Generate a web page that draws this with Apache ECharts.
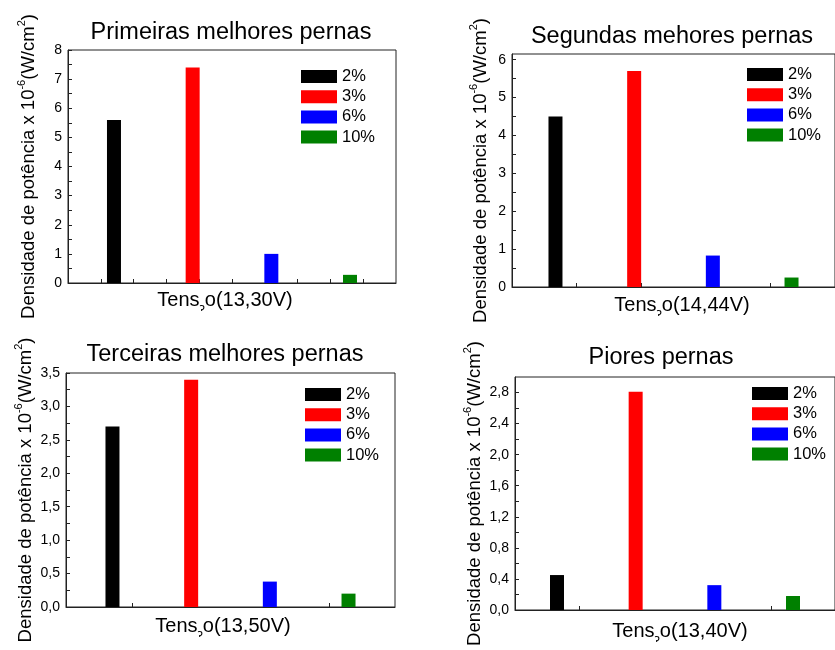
<!DOCTYPE html>
<html>
<head>
<meta charset="utf-8">
<script src="https://cdn.jsdelivr.net/npm/echarts@6/dist/echarts.min.js"></script>
<style>
html,body{margin:0;padding:0;background:#fff;}
#chart{width:835px;height:650px;}
</style>
</head>
<body>
<div id="chart"></div>
<script>
// ---- data ----
const seriesNames = ['2%', '3%', '6%', '10%'];
const panelTitles = ['Primeiras melhores pernas', 'Segundas mehores pernas', 'Terceiras melhores pernas', 'Piores pernas'];
const xLabelValues = ['(13,30V)', '(14,44V)', '(13,50V)', '(13,40V)'];
const values1 = [5.6, 7.4, 1.0, 0.28];
const values2 = [4.5, 5.7, 0.83, 0.25];
const values3 = [2.7, 3.4, 0.38, 0.2];
const values4 = [0.45, 2.81, 0.32, 0.18];
const yLabels1 = [0, 1, 2, 3, 4, 5, 6, 7, 8];
const yLabels2 = [0, 1, 2, 3, 4, 5, 6];
const yLabels3 = [0, 0.5, 1.0, 1.5, 2.0, 2.5, 3.0, 3.5];
const yLabels4 = [0, 0.4, 0.8, 1.2, 1.6, 2.0, 2.4, 2.8];
const yMax = [8, 6.15, 3.5, 3.0];
const yDecimals = [0, 0, 1, 1];
const xTickPositions = [[1,2,3,4,5,6,7,8,9],[2,4,8],[2,4,8],[2,8]];

// ---- layout / styles ----
const colors = ['#000000', '#ff0000', '#0000ff', '#008000'];
const grids = [
  {left: 68, top: 50, width: 328, height: 233},
  {left: 512, top: 54, width: 328, height: 233},
  {left: 66, top: 373, width: 329, height: 234},
  {left: 515, top: 377, width: 328, height: 233}
];
const legendPos = [[301, 68], [747, 66], [305, 386], [752, 385]];
const nameGaps = [30, 22, 31, 31];
const titlePos = [[231, 33], [672, 37], [225, 355], [661, 358]];
const xNamePos = [[225, 299], [682, 304], [223, 625], [680, 630]];
const FONT = 'Liberation Sans, Arial, sans-serif';

const allValues = [values1, values2, values3, values4];
const allYLabels = [yLabels1, yLabels2, yLabels3, yLabels4];

function minorTicks(labels, max) {
  const out = [];
  for (let i = 0; i < labels.length; i++) {
    out.push(labels[i]);
    if (i + 1 < labels.length) out.push((labels[i] + labels[i + 1]) / 2);
  }
  if (labels.length > 1) {
    const step = (labels[1] - labels[0]) / 2;
    const nxt = labels[labels.length - 1] + step;
    if (nxt < max - 1e-9) out.push(nxt);
  }
  return out;
}

const option = {
  animation: false,
  backgroundColor: '#fff',
  grid: grids.map(g => Object.assign({show: true, borderColor: '#222', borderWidth: 1, backgroundColor: 'transparent'}, g)),
  legend: legendPos.map(p => ({
    orient: 'vertical', left: p[0], top: p[1], padding: 0,
    itemWidth: 36, itemHeight: 13, itemGap: 3.2, icon: 'rect',
    data: seriesNames,
    textStyle: {fontFamily: FONT, fontSize: 16.5, color: '#000', padding: [0, 0, 0, 0]},
    selectedMode: false
  })),
  xAxis: [],
  yAxis: [],
  series: [],
  graphic: []
};

for (let i = 0; i < 4; i++) {
  option.xAxis.push({
    type: 'category', gridIndex: i, data: [''],
    axisLine: {show: true, lineStyle: {color: '#222', width: 1}},
    axisTick: {show: false}, axisLabel: {show: false}, splitLine: {show: false}
  });
}
for (let i = 0; i < 4; i++) {
  option.xAxis.push({
    type: 'value', gridIndex: i, min: 0, max: 10, position: 'bottom',
    axisLine: {show: false}, axisLabel: {show: false}, splitLine: {show: false},
    axisTick: {show: true, inside: true, length: 4, lineStyle: {color: '#222'}, customValues: xTickPositions[i]}
  });
}
for (let i = 0; i < 4; i++) {
  const d = yDecimals[i];
  option.yAxis.push({
    type: 'value', gridIndex: i, min: 0, max: yMax[i],
    name: '{t|Densidade de potência x 10}{s|-6}{t|(W/cm}{s|2}{t|)}',
    nameLocation: 'middle', nameGap: nameGaps[i],
    nameTextStyle: {
      rich: {
        t: {fontFamily: FONT, fontSize: 18.5, color: '#000', lineHeight: 22, verticalAlign: 'bottom'},
        s: {fontFamily: FONT, fontSize: 11, color: '#000', lineHeight: 22, verticalAlign: 'top'}
      }
    },
    axisLine: {show: true, lineStyle: {color: '#222', width: 1}},
    axisTick: {show: true, inside: true, length: 4, lineStyle: {color: '#222'}, customValues: minorTicks(allYLabels[i], yMax[i])},
    axisLabel: {show: true, fontFamily: FONT, fontSize: 14, color: '#000', margin: 6,
      customValues: allYLabels[i],
      formatter: v => Number(v).toFixed(d).replace('.', ',')},
    splitLine: {show: false}
  });
}
for (let i = 0; i < 4; i++) {
  for (let s = 0; s < 4; s++) {
    option.series.push({
      type: 'bar', name: seriesNames[s], xAxisIndex: i, yAxisIndex: i,
      data: [allValues[i][s]], barWidth: 14, barGap: '462%',
      itemStyle: {color: colors[s]}
    });
  }
  option.graphic.push({
    type: 'text', x: titlePos[i][0], y: titlePos[i][1],
    style: {text: panelTitles[i], font: '23.5px ' + FONT, fill: '#000', textAlign: 'center', textVerticalAlign: 'middle'}
  });
  option.graphic.push({
    type: 'text', x: xNamePos[i][0], y: xNamePos[i][1],
    style: {
      text: '{a|Tens}{g|ɂ}{a|o' + xLabelValues[i] + '}',
      textAlign: 'center', textVerticalAlign: 'middle',
      rich: {
        a: {fontFamily: FONT, fontSize: 20, fill: '#000', lineHeight: 22, verticalAlign: 'bottom'},
        g: {fontFamily: 'DejaVu Sans', fontSize: 11, fill: '#000', lineHeight: 22, verticalAlign: 'bottom', padding: [0, 0, -4, 0]}
      }
    }
  });
}

const chart = echarts.init(document.getElementById('chart'), null, {renderer: 'canvas'});
chart.setOption(option);
</script>
</body>
</html>
